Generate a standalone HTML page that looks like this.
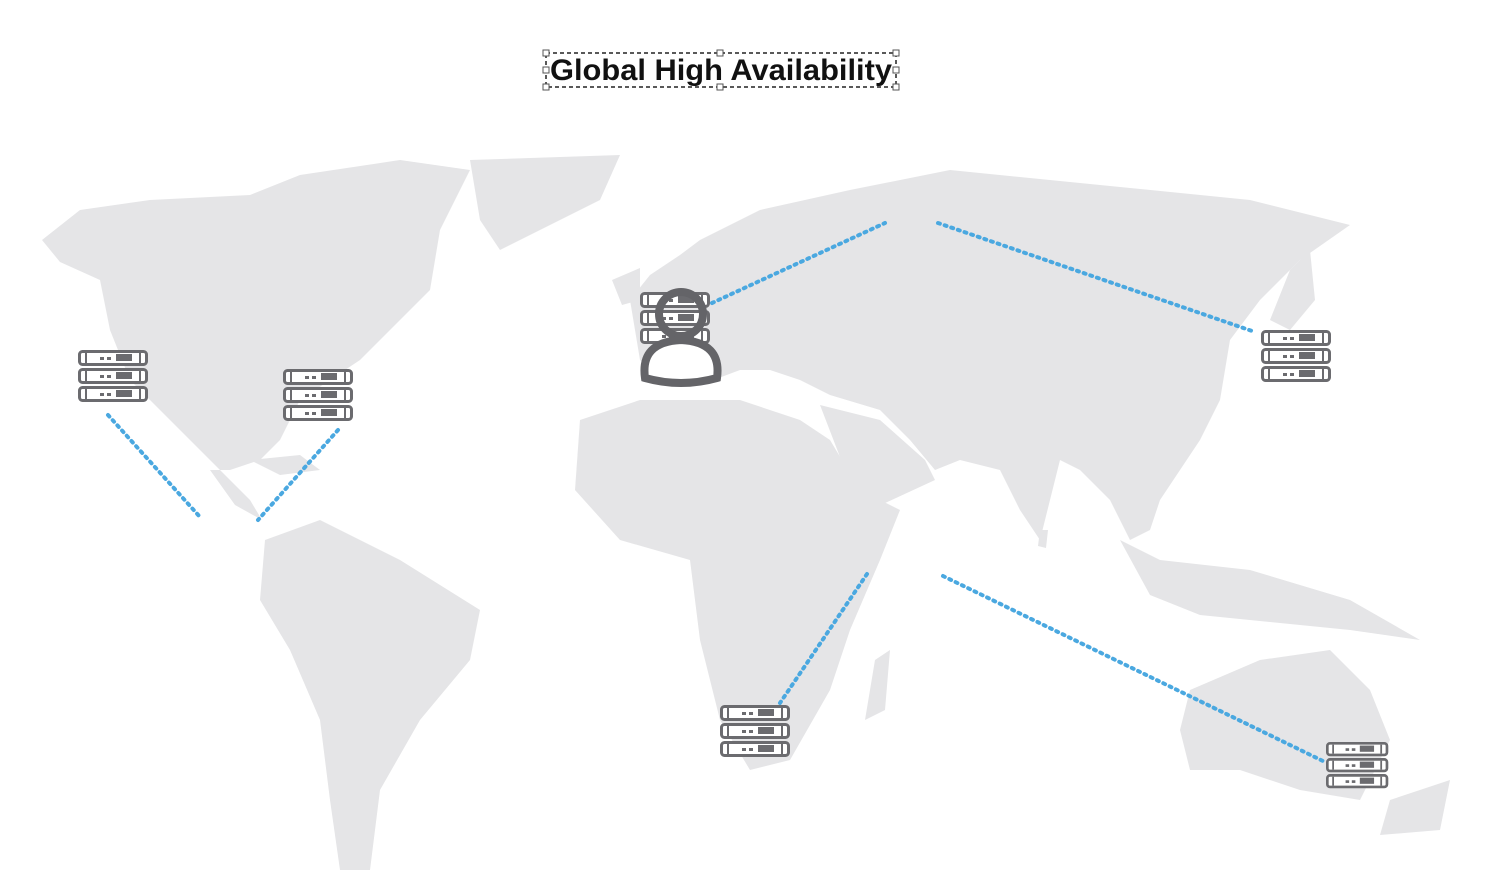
<!DOCTYPE html>
<html><head><meta charset="utf-8"><style>
html,body{margin:0;padding:0;background:#fff;width:1500px;height:878px;overflow:hidden}
svg{position:absolute;left:0;top:0}
</style></head><body>
<svg width="1500" height="878" viewBox="0 0 1500 878">
<defs>
<g id="unit">
<rect x="1.5" y="1.5" width="67" height="13" rx="3" fill="#fff" stroke="#6b6b6f" stroke-width="3"/>
<line x1="8" y1="3" x2="8" y2="13" stroke="#6b6b6f" stroke-width="2"/>
<line x1="62" y1="3" x2="62" y2="13" stroke="#6b6b6f" stroke-width="2"/>
<rect x="22" y="7" width="4" height="3" fill="#6b6b6f"/>
<rect x="29" y="7" width="4" height="3" fill="#6b6b6f"/>
<rect x="38" y="4" width="16" height="7" fill="#6b6b6f"/>
</g>
<g id="srv">
<use href="#unit" y="0"/><use href="#unit" y="18"/><use href="#unit" y="36"/>
</g>
</defs>
<g fill="#e5e5e7">
<polygon points="42,240 80,210 150,200 250,195 300,175 400,160 470,170 440,230 430,290 400,320 360,360 300,400 280,440 260,460 230,470 210,470 235,505 262,520 250,500 210,460 170,420 130,380 110,330 100,280 60,262"/>
<polygon points="470,160 620,155 600,200 540,230 500,250 480,220"/>
<polygon points="265,540 320,520 400,560 480,610 470,660 420,720 380,790 370,870 340,870 330,800 320,720 290,650 260,600"/>
<polygon points="580,420 640,400 740,400 800,420 830,440 860,490 900,510 880,560 850,630 830,690 790,760 750,770 720,720 700,640 690,560 620,540 575,490"/>
<polygon points="630,300 650,275 680,255 700,240 760,210 850,190 950,170 1100,185 1250,200 1350,225 1300,260 1260,300 1230,340 1220,400 1200,440 1180,470 1160,500 1150,530 1130,540 1110,500 1080,470 1060,460 1040,540 1020,510 1000,470 960,460 935,470 910,440 880,410 830,395 800,380 770,370 740,370 700,385 660,380 640,360"/>
<polygon points="820,405 880,420 925,460 935,480 870,510 845,470"/>
<polygon points="1190,690 1260,660 1330,650 1370,690 1390,740 1360,800 1300,790 1240,770 1190,770 1180,730"/>
<polygon points="1120,540 1160,560 1250,570 1350,600 1420,640 1350,630 1200,615 1150,595"/>
<polygon points="875,660 890,650 885,710 865,720"/>
<polygon points="1390,800 1450,780 1440,830 1380,835"/>
<polygon points="612,280 640,268 640,300 622,305"/>
<polygon points="1290,270 1310,250 1315,300 1290,330 1270,320"/>
<polygon points="250,460 300,455 320,470 280,475"/>
<polygon points="1040,530 1048,530 1046,548 1038,546"/>
</g>
<g stroke="#4aa8e0" stroke-width="4" stroke-dasharray="2 5" stroke-linecap="round" fill="none">
<line x1="108" y1="415" x2="200" y2="517"/>
<line x1="338" y1="430" x2="258" y2="520"/>
<line x1="712" y1="303" x2="885" y2="223"/>
<line x1="938" y1="223" x2="1255" y2="332"/>
<line x1="867" y1="574" x2="780" y2="703"/>
<line x1="943" y1="576" x2="1325" y2="762"/>
</g>
<use href="#srv" x="78" y="350"/>
<use href="#srv" x="283" y="369"/>
<use href="#srv" x="640" y="292"/>
<use href="#srv" x="1261" y="330"/>
<use href="#srv" x="720" y="705"/>
<g transform="translate(1326,742) scale(0.89)"><use href="#srv"/></g>
<circle cx="681" cy="314" r="22" fill="none" stroke="#646468" stroke-width="8"/>
<path d="M645,378 Q640,342 681,340 Q722,342 717,378 Q681,388 645,378 Z" fill="#fff" stroke="#646468" stroke-width="8"/>
<rect x="546" y="53" width="350" height="34" fill="none" stroke="#222" stroke-width="1.5" stroke-dasharray="4 3"/>
<g fill="#fff" stroke="#555" stroke-width="1">
<rect x="543" y="50" width="6" height="6"/><rect x="717" y="50" width="6" height="6"/><rect x="893" y="50" width="6" height="6"/>
<rect x="543" y="67" width="6" height="6"/><rect x="893" y="67" width="6" height="6"/>
<rect x="543" y="84" width="6" height="6"/><rect x="717" y="84" width="6" height="6"/><rect x="893" y="84" width="6" height="6"/>
</g>
<text x="721" y="80" text-anchor="middle" font-family="Liberation Sans, sans-serif" font-size="30" font-weight="bold" fill="#111" textLength="342" lengthAdjust="spacingAndGlyphs">Global High Availability</text>
</svg>
</body></html>
